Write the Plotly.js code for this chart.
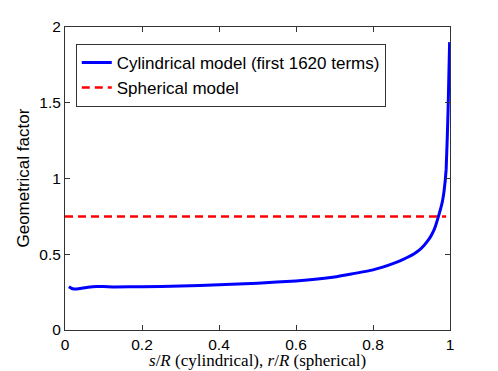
<!DOCTYPE html>
<html>
<head>
<meta charset="utf-8">
<script src="https://cdn.plot.ly/plotly-3.0.1.min.js"></script>
<style>
  html, body { margin: 0; padding: 0; background: #fff; }
  #plot { width: 498px; height: 371px; }
</style>
</head>
<body>
<div id="plot"></div>
<script>
// values
let radius = [0.01, 0.015, 0.02, 0.027, 0.04, 0.06, 0.083, 0.1, 0.13, 0.2, 0.3,
  0.4, 0.5, 0.6, 0.7, 0.74, 0.8, 0.825, 0.855, 0.88, 0.907, 0.92, 0.933, 0.942,
  0.95, 0.957, 0.963, 0.969, 0.975, 0.98, 0.9845, 0.99, 0.995, 0.999];
let cylFactor = [0.286, 0.278, 0.272, 0.27, 0.274, 0.282, 0.287, 0.287, 0.284,
  0.286, 0.29, 0.298, 0.309, 0.324, 0.35, 0.368, 0.397, 0.415, 0.442, 0.468,
  0.503, 0.527, 0.56, 0.588, 0.618, 0.652, 0.692, 0.742, 0.795, 0.845, 0.915,
  1.06, 1.45, 1.9];
let sphRadius = [0, 0.99];
let sphFactor = [0.75, 0.75];
let xTitle = '<i>s</i>/<i>R</i> (cylindrical), <i>r</i>/<i>R</i> (spherical)';
let yTitle = 'Geometrical factor';

let trace1 = {
  x: radius,
  y: cylFactor,
  name: 'Cylindrical model (first 1620 terms)',
  type: 'scatter',
  mode: 'lines',
  line: {color: 'rgb(0,0,255)', width: 3, shape: 'spline', smoothing: 0.4}
};
let trace2 = {
  x: sphRadius,
  y: sphFactor,
  name: 'Spherical model',
  type: 'scatter',
  mode: 'lines',
  line: {color: 'rgb(255,0,0)', width: 2.5, dash: '8px,5px'}
};

let axisStyle = {
  showgrid: false,
  zeroline: false,
  showline: true,
  mirror: 'ticks',
  linecolor: '#333',
  linewidth: 1,
  ticks: 'inside',
  ticklen: 5,
  tickcolor: '#333',
  tickfont: {family: 'Liberation Sans, Arial, sans-serif', size: 15.5, color: '#000'}
};

let layout = {
  width: 498,
  height: 371,
  paper_bgcolor: '#fff',
  plot_bgcolor: '#fff',
  margin: {l: 65, r: 48, t: 27, b: 41},
  showlegend: true,
  legend: {
    x: 0.028, y: 0.944, xanchor: 'left', yanchor: 'top',
    bordercolor: '#333', borderwidth: 1, bgcolor: '#fff',
    font: {family: 'Liberation Sans, Arial, sans-serif', size: 17, color: '#000'},
    tracegroupgap: 0
  },
  xaxis: Object.assign({}, axisStyle, {
    range: [0, 1],
    tickvals: [0, 0.2, 0.4, 0.6, 0.8, 1],
    ticktext: ['0', '0.2', '0.4', '0.6', '0.8', '1']
  }),
  yaxis: Object.assign({}, axisStyle, {
    range: [0, 2],
    tickvals: [0, 0.5, 1, 1.5, 2],
    ticktext: ['0', '0.5', '1', '1.5', '2']
  }),
  // axis titles placed by hand, where MATLAB puts them
  annotations: [{
    text: xTitle,
    xref: 'paper', yref: 'paper',
    x: 0.5, y: -0.101,
    xanchor: 'center', yanchor: 'middle',
    showarrow: false,
    font: {family: 'Liberation Serif, serif', size: 17, color: '#000'}
  }, {
    text: yTitle,
    xref: 'paper', yref: 'paper',
    x: -0.109, y: 0.5,
    xanchor: 'center', yanchor: 'middle',
    textangle: -90,
    showarrow: false,
    font: {family: 'Liberation Sans, Arial, sans-serif', size: 17, color: '#000'}
  }]
};

Plotly.newPlot('plot', [trace1, trace2], layout, {staticPlot: true, displayModeBar: false});
</script>
</body>
</html>
